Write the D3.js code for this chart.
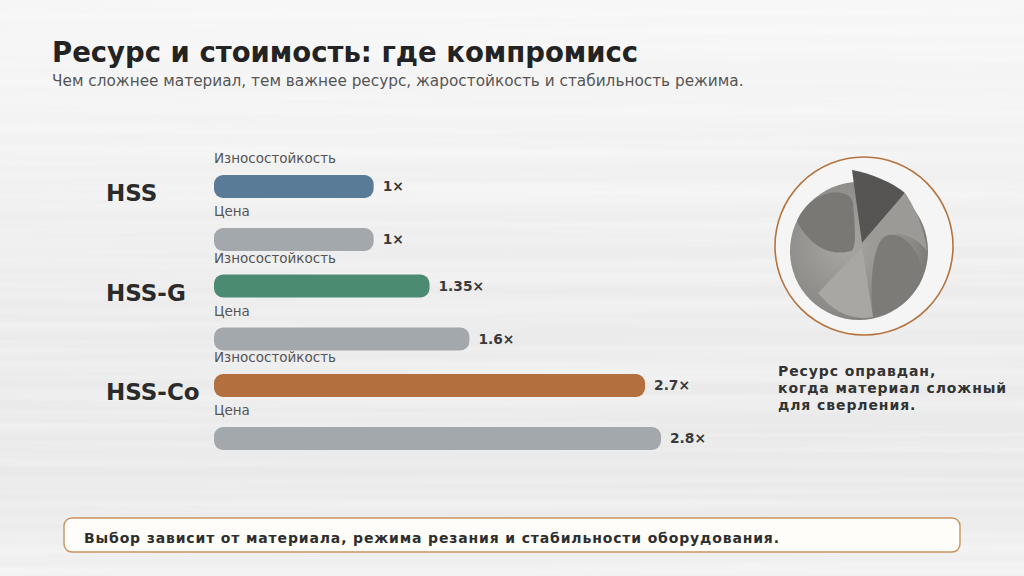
<!DOCTYPE html>
<html>
<head>
<meta charset="utf-8">
<script src="https://cdn.jsdelivr.net/npm/d3@7"></script>
<style>
  html, body { margin: 0; padding: 0; background: #eeeeee; }
  svg { display: block; font-family: "DejaVu Sans", sans-serif; }
</style>
</head>
<body>
<div id="chart"></div>
<script>
// chart data
const materials = ["HSS", "HSS-G", "HSS-Co"];
const wearValues = [1, 1.35, 2.7];     // Износостойкость
const priceValues = [1, 1.6, 2.8];     // Цена
const wearColors = ["#5a7b97", "#4a8b72", "#b36f3d"];
const metricLabels = ["Износостойкость", "Цена"];

const W = 1024, H = 576;

const svg = d3.select("#chart").append("svg")
  .attr("width", W)
  .attr("height", H);

// brushed metal background
const defs = svg.append("defs");
const bg = defs.append("linearGradient").attr("id", "bgGrad")
  .attr("x1", 0).attr("y1", 0).attr("x2", 0).attr("y2", 1);
bg.append("stop").attr("offset", "0%").attr("stop-color", "#f6f6f6");
bg.append("stop").attr("offset", "20%").attr("stop-color", "#f3f3f3");
bg.append("stop").attr("offset", "50%").attr("stop-color", "#ececec");
bg.append("stop").attr("offset", "85%").attr("stop-color", "#e9e9e9");
bg.append("stop").attr("offset", "100%").attr("stop-color", "#f1f1f1");

const brush = defs.append("filter").attr("id", "brushed")
  .attr("x", 0).attr("y", 0).attr("width", 1).attr("height", 1);
brush.append("feTurbulence")
  .attr("type", "fractalNoise")
  .attr("baseFrequency", "0.0008 0.09")
  .attr("numOctaves", 2)
  .attr("seed", 3);
brush.append("feColorMatrix")
  .attr("type", "matrix")
  .attr("values", "0 0 0 0 1  0 0 0 0 1  0 0 0 0 1  0 0 0 0.9 -0.35");

svg.append("rect").attr("width", W).attr("height", H).attr("fill", "url(#bgGrad)");
svg.append("rect").attr("width", W).attr("height", H)
  .attr("filter", "url(#brushed)").attr("opacity", 0.9);

// title
svg.append("text")
  .attr("x", 52).attr("y", 62)
  .attr("font-size", 27.5).attr("font-weight", "bold")
  .attr("fill", "#232323")
  .text("Ресурс и стоимость: где компромисс");

svg.append("text")
  .attr("x", 52).attr("y", 86)
  .attr("font-size", 15.3)
  .attr("fill", "#555")
  .text("Чем сложнее материал, тем важнее ресурс, жаростойкость и стабильность режима.");

// scales
const x = d3.scaleLinear()
  .domain([0, d3.max(priceValues)])
  .range([0, 447]);

const groupY = d3.scalePoint()
  .domain(materials)
  .range([158, 357]);

const barX = 214, barH = 23;

const rows = materials.map((m, i) => ({
  name: m,
  values: [wearValues[i], priceValues[i]],
  colors: [wearColors[i], "#a3a8ad"]
}));

const groups = svg.selectAll("g.group")
  .data(rows)
  .enter()
  .append("g")
  .attr("class", "group")
  .attr("transform", d => `translate(0,${groupY(d.name)})`);

groups.append("text")
  .attr("x", 106).attr("y", 43)
  .attr("font-size", 23).attr("font-weight", "bold")
  .attr("fill", "#2b2b2b")
  .text(d => d.name);

// each group holds two metric rows: label above, bar below
const metricOffset = [0, 53];

metricLabels.forEach((label, k) => {
  groups.append("text")
    .attr("x", barX).attr("y", metricOffset[k] + 5)
    .attr("font-size", 13.5)
    .attr("fill", "#555")
    .text(label);

  groups.append("rect")
    .attr("x", barX)
    .attr("y", metricOffset[k] + 17)
    .attr("width", d => x(d.values[k]))
    .attr("height", barH)
    .attr("rx", 9)
    .attr("fill", d => d.colors[k]);

  groups.append("text")
    .attr("x", d => barX + x(d.values[k]) + 9)
    .attr("y", metricOffset[k] + 33)
    .attr("font-size", 13.8).attr("font-weight", "bold")
    .attr("fill", "#3a3a3a")
    .text(d => d.values[k] + "×");
});

// drill photo in a ring
const cx = 864, cy = 246;
svg.append("circle")
  .attr("cx", cx).attr("cy", cy).attr("r", 89)
  .attr("fill", "#f5f5f5")
  .attr("stroke", "#b5743f").attr("stroke-width", 1.6);

const drill = svg.append("g").attr("transform", `translate(${cx - 5},${cy + 5})`);
const dg = defs.append("radialGradient").attr("id", "drillGrad")
  .attr("cx", "40%").attr("cy", "45%").attr("r", "70%");
dg.append("stop").attr("offset", "0%").attr("stop-color", "#a9a7a4");
dg.append("stop").attr("offset", "70%").attr("stop-color", "#8c8a87");
dg.append("stop").attr("offset", "100%").attr("stop-color", "#6f6d6a");

drill.append("circle").attr("r", 69).attr("fill", "url(#drillGrad)");
// left flute
drill.append("path")
  .attr("d", "M-62,-30 C-48,-62 -10,-66 -6,-48 C-4,-24 -2,-2 -8,0 C-30,6 -50,-6 -62,-30 Z")
  .attr("fill", "#7a7875");
// right flute
drill.append("path")
  .attr("d", "M14,66 C10,30 14,-14 30,-16 C48,-18 62,4 63,22 C58,44 40,60 14,66 Z")
  .attr("fill", "#7d7b78");
// dark cutting face
drill.append("path")
  .attr("d", "M-7,-81 C12,-78 34,-68 46,-58 L3,-8 Z")
  .attr("fill", "#575554");
// lighter lower face
drill.append("path")
  .attr("d", "M-41,42 L3,-4 L14,66 C-5,70 -25,62 -41,42 Z")
  .attr("fill", "#a9a7a3");
drill.append("path")
  .attr("d", "M3,-8 L46,-58 C56,-44 66,-20 68,0 C54,-18 36,-20 24,-14 Z")
  .attr("fill", "#9c9a97");

const note = ["Ресурс оправдан,", "когда материал сложный", "для сверления."];
svg.append("g").selectAll("text")
  .data(note)
  .enter()
  .append("text")
  .attr("x", 778)
  .attr("y", (d, i) => 376 + i * 17)
  .attr("font-size", 14).attr("font-weight", "bold")
  .attr("letter-spacing", 0.9)
  .attr("fill", "#333")
  .text(d => d);

// bottom note box
svg.append("rect")
  .attr("x", 64).attr("y", 518)
  .attr("width", 896).attr("height", 34)
  .attr("rx", 8)
  .attr("fill", "#fffdf9")
  .attr("stroke", "#c9935f").attr("stroke-width", 1.4);

svg.append("text")
  .attr("x", 84).attr("y", 543)
  .attr("font-size", 14).attr("font-weight", "bold")
  .attr("letter-spacing", 0.85)
  .attr("fill", "#2e2e2e")
  .text("Выбор зависит от материала, режима резания и стабильности оборудования.");
</script>
</body>
</html>
